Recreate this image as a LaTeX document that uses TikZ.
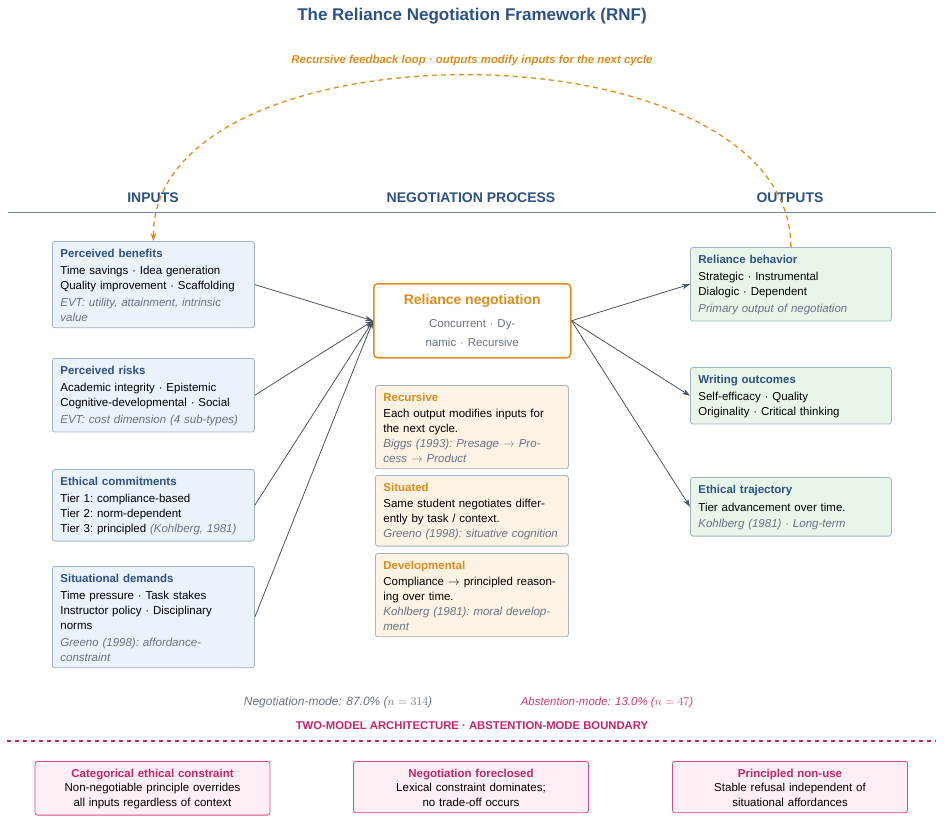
\documentclass[tikz,border=0pt]{standalone}
\usepackage{fontspec}
\setmainfont{Liberation Sans}
\usetikzlibrary{arrows.meta,positioning}

\definecolor{rnfblue}{HTML}{2E5285}
\definecolor{rnforange}{HTML}{E08C1A}
\definecolor{rnfpink}{HTML}{C8246A}
\definecolor{rnfdash}{HTML}{D94B86}
\definecolor{rnfslate}{HTML}{4A5567}
\definecolor{rnfgray}{HTML}{687385}
\definecolor{boxline}{HTML}{A3B3C8}
\definecolor{infill}{HTML}{EAF2FA}
\definecolor{procfill}{HTML}{FDF3E4}
\definecolor{outfill}{HTML}{E8F5E9}
\definecolor{modefill}{HTML}{FDEFF5}

\newcommand{\btitle}[2][rnfblue]{{\rule{0pt}{10.3pt}\color{#1}\bfseries #2}}
\newcommand{\evt}[1]{{\color{rnfgray}\itshape #1}}

\begin{document}
\begin{tikzpicture}[x=1pt,y=-1pt,
  box/.style={draw=boxline, line width=0.8pt, rounded corners=2.5pt, anchor=north west,
    align=left, inner xsep=8pt, inner ysep=6pt, font=\fontsize{11.5}{15}\selectfont},
  inbox/.style={box, fill=infill, text width=186pt},
  procbox/.style={box, fill=procfill, text width=177pt},
  outbox/.style={box, fill=outfill, text width=185pt},
  negbox/.style={draw=rnforange, line width=1.5pt, fill=white, rounded corners=4pt,
    anchor=north west, minimum width=197pt, minimum height=74pt, text width=181pt,
    align=center, font=\fontsize{11.5}{15}\selectfont},
  modebox/.style={draw=rnfdash, fill=modefill, line width=0.8pt, rounded corners=2.5pt,
    anchor=north, align=center, text width=219pt, inner xsep=8pt, inner ysep=6pt,
    font=\fontsize{11.5}{15}\selectfont},
  colhead/.style={anchor=base, text=rnfblue, font=\fontsize{14}{16}\selectfont\bfseries},
  flow/.style={rnfslate, line width=0.8pt, -{Stealth[length=8pt,width=5.5pt]}},
  feedback/.style={rnforange, line width=1.3pt, dash pattern=on 5pt off 4pt,
    -{Stealth[length=8pt,width=6pt]}}]
\useasboundingbox (0,0) rectangle (944,823);

\node[anchor=base, text=rnfblue, font=\fontsize{17}{20}\selectfont\bfseries] (title) at (472,20)
  {The Reliance Negotiation Framework (RNF)};
\node[anchor=base, text=rnforange, font=\fontsize{11.4}{14}\selectfont\bfseries\itshape] (looplbl) at (472,63)
  {Recursive feedback loop · outputs modify inputs for the next cycle};

\node[colhead] (hin) at (153,202) {INPUTS};
\node[colhead] (hproc) at (471,202) {NEGOTIATION PROCESS};
\node[colhead] (hout) at (790,202) {OUTPUTS};
\draw[rnfblue!70, line width=1pt] (8,212) -- (936,212);

\node[inbox] (pb) at (52,241) {\btitle{Perceived benefits}\\[2pt]
  Time savings · Idea generation\\
  Quality improvement · Scaffolding\\[2pt]
  \evt{EVT: utility, attainment, intrinsic\\value}};
\node[inbox] (pr) at (52,358) {\btitle{Perceived risks}\\[2pt]
  Academic integrity · Epistemic\\
  Cognitive-developmental · Social\\[2pt]
  \evt{EVT: cost dimension (4 sub-types)}};
\node[inbox] (ec) at (52,469) {\btitle{Ethical commitments}\\[2pt]
  Tier 1:\ compliance-based\\
  Tier 2:\ norm-dependent\\
  Tier 3:\ principled \evt{(Kohlberg, 1981)}};
\node[inbox] (sd) at (52,566) {\btitle{Situational demands}\\[2pt]
  Time pressure · Task stakes\\
  Instructor policy · Disciplinary\\
  norms\\[2pt]
  \evt{Greeno (1998):\ affordance-\\constraint}};

\node[negbox] (rn) at (373,283) {{\fontsize{14}{17}\selectfont\bfseries\color{rnforange}Reliance negotiation}\\[8pt]
  {\color{rnfgray}Concurrent · Dy-}\\[4pt]
  {\color{rnfgray}namic · Recursive}};

\node[procbox] (rec) at (375,385) {\btitle[rnforange]{Recursive}\\[1pt]
  Each output modifies inputs for\\
  the next cycle.\\
  \evt{Biggs (1993):\ Presage $\rightarrow$ Pro-\\cess $\rightarrow$ Product}};
\node[procbox] (sit) at (375,475) {\btitle[rnforange]{Situated}\\[1pt]
  Same student negotiates differ-\\
  ently by task / context.\\
  \evt{Greeno (1998):\ situative cognition}};
\node[procbox] (dev) at (375,553) {\btitle[rnforange]{Developmental}\\[1pt]
  Compliance $\rightarrow$ principled reason-\\
  ing over time.\\
  \evt{Kohlberg (1981):\ moral develop-\\ment}};

\node[outbox] (rb) at (690,247) {\btitle{Reliance behavior}\\[2pt]
  Strategic · Instrumental\\
  Dialogic · Dependent\\[2pt]
  \evt{Primary output of negotiation}};
\node[outbox] (wo) at (690,367) {\btitle{Writing outcomes}\\[2pt]
  Self-efficacy · Quality\\
  Originality · Critical thinking};
\node[outbox] (et) at (690,477) {\btitle{Ethical trajectory}\\[3pt]
  Tier advancement over time.\\[1pt]
  \evt{Kohlberg (1981) · Long-term}};

\draw[flow] (pb.east) -- (rn.west);
\draw[flow] (pr.east) -- (rn.west);
\draw[flow] (ec.east) -- (rn.west);
\draw[flow] (sd.east) -- (rn.west);
\draw[flow] (rn.east) -- (rb.west);
\draw[flow] (rn.east) -- (wo.west);
\draw[flow] (rn.east) -- (et.west);

\draw[feedback] (rb.north) .. controls (790,19) and (152,19) .. (pb.north);

\node[anchor=base, text=rnfgray, font=\fontsize{12}{14}\selectfont\itshape] (negmode) at (338,705)
  {Negotiation-mode: 87.0\% ($n = 314$)};
\node[anchor=base, text=rnfpink!90, font=\fontsize{11.5}{14}\selectfont\itshape] (absmode) at (607,705)
  {Abstention-mode: 13.0\% ($n = 47$)};
\node[anchor=base, text=rnfpink, font=\fontsize{11.3}{14}\selectfont\bfseries] (boundary) at (472,729)
  {TWO-MODEL ARCHITECTURE · ABSTENTION-MODE BOUNDARY};
\draw[rnfpink, line width=1.3pt, dash pattern=on 4pt off 4pt] (7,741) -- (936,741);

\node[modebox] (cat) at (152.5,761) {\btitle[rnfpink]{Categorical ethical constraint}\\[-1pt]
  Non-negotiable principle overrides\\
  all inputs regardless of context};
\node[modebox] (fore) at (471,761) {\btitle[rnfpink]{Negotiation foreclosed}\\[-1pt]
  Lexical constraint dominates;\\
  no trade-off occurs};
\node[modebox] (nonuse) at (790,761) {\btitle[rnfpink]{Principled non-use}\\[-1pt]
  Stable refusal independent of\\
  situational affordances};

\end{tikzpicture}
\end{document}
